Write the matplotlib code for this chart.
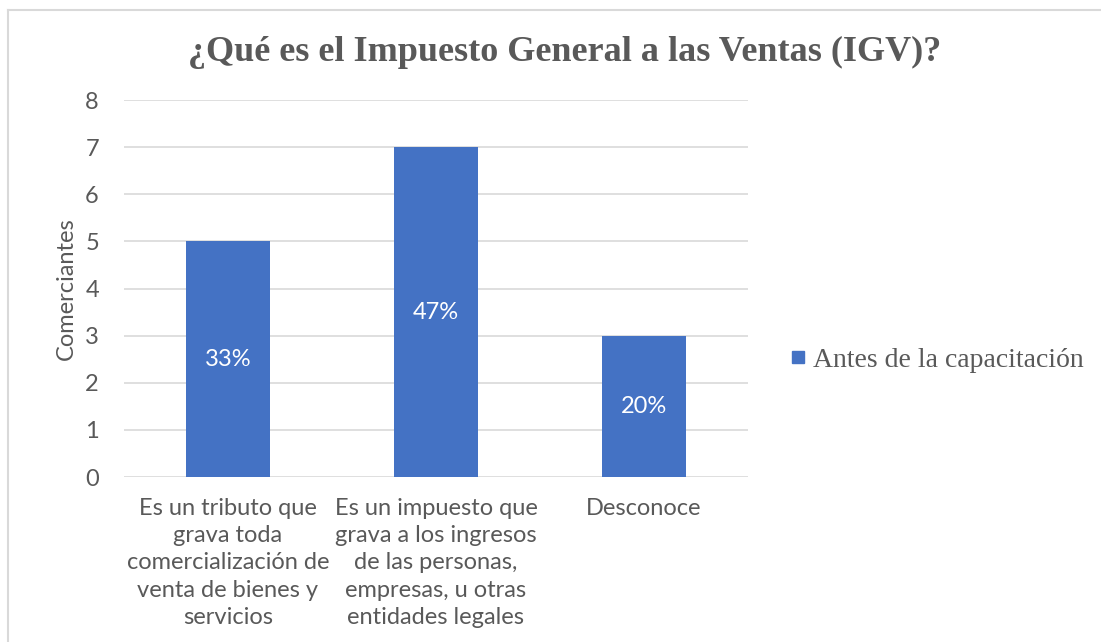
import matplotlib.pyplot as plt
from matplotlib.lines import Line2D

categorias = ["Es un tributo que\ngrava toda\ncomercialización de\nventa de bienes y\nservicios",
              "Es un impuesto que\ngrava a los ingresos\nde las personas,\nempresas, u otras\nentidades legales",
              "Desconoce"]
comerciantes = [5, 7, 3]
serie = "Antes de la capacitación"
titulo = "¿Qué es el Impuesto General a las Ventas (IGV)?"

gris = "#595959"
azul = "#4472C4"

fig = plt.figure(figsize=(11.01, 6.42), dpi=100)
ax = fig.add_axes([0.1126, 0.257, 0.5668, 0.587])

total = sum(comerciantes)
x = range(len(categorias))
barras = ax.bar(x, comerciantes, width=0.4, color=azul, zorder=3, label=serie)
for b, v in zip(barras, comerciantes):
    ax.text(b.get_x() + b.get_width() / 2, v / 2, f"{round(100 * v / total)}%",
            ha="center", va="center", color="white", fontsize=17, family="Lato")

ax.set_xlim(-0.5, 2.5)
ax.set_ylim(0, 8)
ax.set_yticks(range(0, 9))
ax.grid(axis="y", color="#d9d9d9", linewidth=1.2, zorder=0)
for s in ax.spines.values():
    s.set_visible(False)
ax.tick_params(length=0, colors=gris, labelsize=17)
ax.tick_params(axis="x", pad=15)
ax.tick_params(axis="y", pad=18)
ax.set_xticks(list(x))
ax.set_xticklabels(categorias, family="Lato", linespacing=1.37)
for lab in ax.get_yticklabels():
    lab.set_family("Lato")
ax.set_ylabel("Comerciantes", color=gris, fontsize=17, family="Lato", labelpad=6)

fig.text(0.513, 0.918, titulo, ha="center", va="center", fontsize=26,
         fontweight="bold", color=gris, family="Liberation Serif")

ax.legend(handles=[Line2D([], [], marker="s", linestyle="", color=azul, markersize=9)],
          labels=[serie], loc="center left", bbox_to_anchor=(1.029, 0.31),
          frameon=False, handlelength=0.5, handletextpad=0.3,
          prop={"family": "Liberation Serif", "size": 20}, labelcolor=gris)

fig.add_artist(Line2D([8 / 1101, 8 / 1101], [0, 1 - 10 / 642], transform=fig.transFigure, color="#d9d9d9", lw=1.5))
fig.add_artist(Line2D([8 / 1101, 1], [1 - 10 / 642, 1 - 10 / 642], transform=fig.transFigure, color="#d9d9d9", lw=1.5))

fig.savefig("out.png", dpi=100)
